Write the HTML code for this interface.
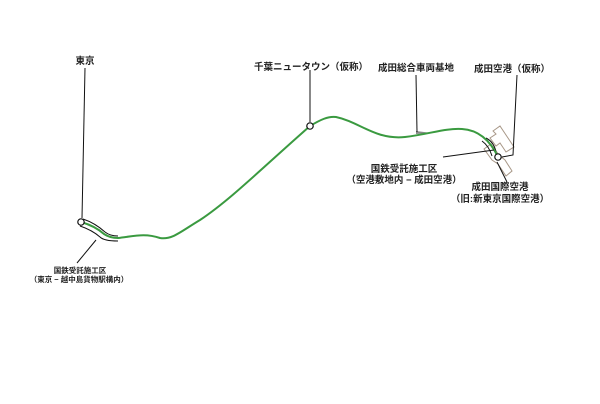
<!DOCTYPE html>
<html><head><meta charset="utf-8"><style>
html,body{margin:0;padding:0;background:#fff;}
svg{display:block}
text{font-family:"Liberation Sans","Noto Sans CJK JP",sans-serif;font-weight:bold;fill:#222;}
</style></head><body>
<svg width="600" height="404" viewBox="0 0 600 404" xmlns="http://www.w3.org/2000/svg">
<!-- airport outline -->
<g fill="none" stroke="#a89888" stroke-width="1">
<polygon points="493,131 500,126 514,147 506,152 500,143 496,146 490,138 496,134"/>
<polygon points="484,149 491,144 499,155 505,160 512,171 506,176 498,164 492,160"/>
</g>
<!-- grey wedge -->
<polygon points="416,131 432,133 416,134" fill="#888"/>
<!-- black side lines -->
<g fill="none" stroke="#111" stroke-width="1">
<path d="M83,219 Q95,223 105,232 Q110,236 118,236"/>
<path d="M80,226 Q92,230 100,237 Q104,241 118,241"/>
<path d="M486,138 Q494,142 496,152"/>
<path d="M482,141 Q489,146 492,156"/>
</g>
<!-- route -->
<path d="M81,222 Q95,226 104,234 Q110,238 118,238 C135,236 145,233 160,238 C172,240 180,232 200,220 C230,200 260,170 310,126 C320,120 328,116 336,117 C360,122 375,140 405,137 C430,134 445,128 462,129 C478,130 490,140 498,157" fill="none" stroke="#3a9a40" stroke-width="2"/>
<!-- leaders -->
<g stroke="#111" stroke-width="1" fill="none">
<line x1="85" y1="68" x2="82" y2="218"/>
<line x1="310" y1="70" x2="310" y2="122"/>
<line x1="416" y1="75" x2="417" y2="132"/>
<polyline points="517,75 513,155 502,157"/>
<line x1="443" y1="157" x2="494" y2="150"/>
<line x1="497" y1="162" x2="507" y2="182"/>
<line x1="96" y1="240" x2="77" y2="263"/>
</g>
<g fill="#fff" stroke="#111" stroke-width="1.2">
<circle cx="81" cy="222" r="3.2"/>
<circle cx="310" cy="126" r="3.2"/>
<circle cx="498" cy="157" r="3.2"/>
</g>
<g font-size="9.5" text-anchor="middle">
<text x="85" y="64">東京</text>
<text x="311" y="70">千葉ニュータウン（仮称）</text>
<text x="416" y="71">成田総合車両基地</text>
<text x="512" y="72">成田空港（仮称）</text>
<text x="404" y="172">国鉄受託施工区</text>
<text x="404" y="183">（空港敷地内 − 成田空港）</text>
<text x="500" y="190">成田国際空港</text>
<text x="500" y="202">（旧:新東京国際空港）</text>
</g>
<g font-size="7.5" text-anchor="middle">
<text x="80" y="273">国鉄受託施工区</text>
<text x="79" y="282">（東京 − 越中島貨物駅構内）</text>
</g>
</svg>
</body></html>
